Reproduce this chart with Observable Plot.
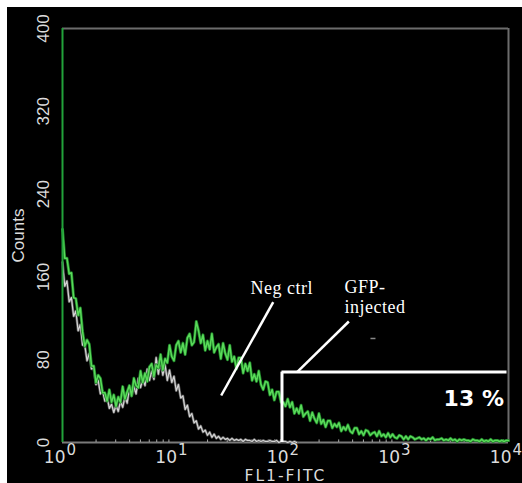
<!DOCTYPE html>
<html><head><meta charset="utf-8">
<script src="https://cdn.jsdelivr.net/npm/d3@7"></script>
<script src="https://cdn.jsdelivr.net/npm/@observablehq/plot@0.6"></script>
<style>
html,body{margin:0;padding:0;background:#fff;}
#chart{position:absolute;left:7px;top:7px;}
</style></head><body><div id="chart"></div>
<script>
// histogram channels, 0.02 decade each, starting at 10^0
const channelStep = 0.02;
const gfpCounts = [
206,178,178,163,164,140,139,123,130,107,93,99,95,74,74,58,65,62,48,48,
40,51,39,46,35,44,39,54,42,49,55,45,62,55,53,69,58,67,59,73,
76,64,75,72,85,70,81,77,94,83,79,94,98,87,96,85,101,105,94,97,
117,108,96,104,89,98,90,105,87,92,95,81,96,86,80,94,78,83,71,82,
82,67,76,69,77,60,66,59,69,56,51,59,58,46,51,41,49,49,39,39,
35,42,34,39,28,33,28,36,25,28,30,21,29,23,19,28,18,22,15,21,
21,14,18,15,19,11,15,12,17,11,9,14,14,8,11,7,12,11,7,9,
10,6,11,6,8,5,9,5,8,5,4,7,6,3,6,3,6,5,3,4,
5,3,4,2,4,3,5,2,3,3,4,2,3,2,4,2,3,1,3,2,
3,2,2,1,3,2,2,1,3,1,2,1,3,1,2,2,1,2,1,2,2];
const negCounts = [
174,151,156,136,140,122,127,108,114,94,94,79,86,71,72,56,60,47,50,40,
44,33,37,29,36,30,40,34,44,38,52,45,54,47,62,53,61,55,71,60,
69,61,82,66,80,65,75,60,70,58,64,50,56,43,45,32,36,25,28,19,
21,13,16,10,12,7,10,5,8,4,6,3,5,3,4,2,4,2,3,2,
3,1,3,2,2,1,3,1,2,1,2,1,1,2,1,1,2,0,1,1,
1,0,1,0,1,0];
const xTickExponents = [0,1,2,3,4];
const yTicks = [0,80,160,240,320,400];
const minorTicks = [2,3,4,5,6,7,8,9,20,30,40,50,60,70,80,90,200,300,400,500,600,700,800,900,2000,3000,4000,5000,6000,7000,8000,9000];
const gate = [{x: 93, y: 68, xEnd: 9700}];
const gatePercent = ["13 %"];
const labelNeg = [{x: 48.5, y: 143.7, text: "Neg ctrl"}];
const labelGfp = [{x: 338, y: 125.6, text: "GFP-\ninjected"}];
const pointerLines = [
  {x1: 77.6, y1: 135.6, x2: 26.5, y2: 45.4},
  {x1: 370, y1: 116.9, x2: 127, y2: 67.9}
];
const stray = [{x1: 578, x2: 641, y: 100.5}];

const toRows = counts => counts.map((c, i) => ({fl: 10 ** (i * channelStep), count: c}));
const gfp = toRows(gfpCounts);
const neg = toRows(negCounts);

const axisFill = "#dcdcdc";
const plot = Plot.plot({
  width: 515, height: 476,
  marginLeft: 55, marginRight: 14, marginTop: 21, marginBottom: 41,
  style: {background: "#000", overflow: "visible"},
  x: {type: "log", domain: [1, 10000], axis: null},
  y: {domain: [0, 400], axis: null},
  marks: [
    Plot.ruleY([400], {stroke: "#6c6c6c", strokeWidth: 2}),
    Plot.ruleX([10000], {stroke: "#6c6c6c", strokeWidth: 2}),
    Plot.ruleY([0], {stroke: "#7a7a7a", strokeWidth: 2}),
    Plot.ruleX(minorTicks, {y1: 0, y2: 2.5, stroke: "#aaa", strokeWidth: 1}),
    Plot.line(neg, {x: "fl", y: "count", stroke: "#5c5c5c", strokeWidth: 2.6}),
    Plot.line(neg, {x: "fl", y: "count", stroke: "#d4d4d4", strokeWidth: 1.2}),
    Plot.line(gfp, {x: "fl", y: "count", stroke: "#1d7f27", strokeWidth: 3}),
    Plot.line(gfp, {x: "fl", y: "count", stroke: "#5ada5a", strokeWidth: 1.5}),
    Plot.ruleX([1], {stroke: "#22a23a", strokeWidth: 2}),
    Plot.link(pointerLines, {x1: "x1", y1: "y1", x2: "x2", y2: "y2", stroke: "#fff", strokeWidth: 2.5}),
    Plot.link(stray, {x1: "x1", x2: "x2", y1: "y", y2: "y", stroke: "#888", strokeWidth: 1.5}),
    Plot.ruleX(gate, {x: "x", y1: 0, y2: "y", stroke: "#fff", strokeWidth: 3}),
    Plot.ruleY(gate, {y: "y", x1: "x", x2: "xEnd", stroke: "#fff", strokeWidth: 3}),
    Plot.text(gatePercent, {x: 9100, y: 34.8, text: d => d, textAnchor: "end", lineAnchor: "bottom",
      fill: "#fff", fontFamily: "DejaVu Sans", fontWeight: "bold", fontSize: 22}),
    Plot.text(labelNeg, {x: "x", y: "y", text: "text", textAnchor: "start", lineAnchor: "bottom",
      fill: "#fff", fontFamily: "Liberation Serif", fontSize: 18}),
    Plot.text(labelGfp, {x: "x", y: "y", text: "text", textAnchor: "start", lineAnchor: "bottom", lineHeight: 1.06,
      fill: "#fff", fontFamily: "Liberation Serif", fontSize: 18}),
    Plot.text(yTicks, {y: d => d, text: d => String(d), frameAnchor: "left", dx: -19, rotate: -90,
      textAnchor: "middle", lineAnchor: "middle", fill: axisFill, fontFamily: "Liberation Sans", fontSize: 17}),
    Plot.text(["Counts"], {text: d => d, frameAnchor: "left", dx: -44, rotate: -90,
      textAnchor: "middle", lineAnchor: "middle", fill: axisFill, fontFamily: "Liberation Sans", fontSize: 17}),
    Plot.text(xTickExponents, {x: e => 10 ** e, text: () => "10", frameAnchor: "bottom", dy: 20, dx: 3,
      textAnchor: "end", lineAnchor: "bottom", fill: axisFill, fontFamily: "DejaVu Sans", fontSize: 17}),
    Plot.text(xTickExponents, {x: e => 10 ** e, text: e => String(e), frameAnchor: "bottom", dy: 12, dx: 4,
      textAnchor: "start", lineAnchor: "bottom", fill: axisFill, fontFamily: "DejaVu Sans", fontSize: 15}),
    Plot.text(["FL1-FITC"], {text: d => d, frameAnchor: "bottom", dy: 38, textAnchor: "middle", lineAnchor: "bottom",
      fill: axisFill, fontFamily: "DejaVu Sans", fontSize: 15.5})
  ]
});
d3.select(plot).selectAll("text").each(function() {
  const t = this.textContent;
  if (t === "FL1-FITC") this.setAttribute("letter-spacing", "2");
  if (t === "Neg ctrl" || t.startsWith("GFP")) this.setAttribute("letter-spacing", "0.5");
});
document.getElementById("chart").appendChild(plot);
</script></body></html>
